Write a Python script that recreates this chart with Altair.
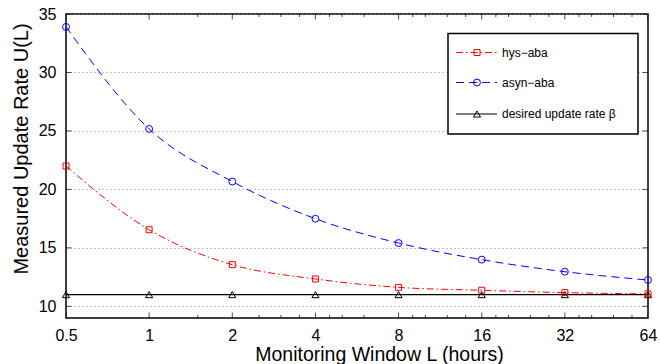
import altair as alt
import pandas as pd

# ---- data ----
L_hours = [0.5, 1, 2, 4, 8, 16, 32, 64]
hys_aba = [22.0, 16.55, 13.56, 12.34, 11.62, 11.37, 11.17, 11.06]
asyn_aba = [33.9, 25.17, 20.67, 17.49, 15.41, 13.99, 12.96, 12.25]
desired_rate = [11.0, 11.0, 11.0, 11.0, 11.0, 11.0, 11.0, 11.0]

x_tick_values = [0.5, 1, 2, 4, 8, 16, 32, 64]
x_minor_ticks = [1.5, 2.5, 3, 3.5, 4.5, 5, 6, 9, 10, 12, 14, 18, 20, 24, 28, 36, 40, 48, 56]
y_tick_values = [10, 15, 20, 25, 30, 35]

legend_labels = ["hys\u2212aba", "asyn\u2212aba", "desired update rate \u03b2"]

FONT = "Liberation Sans, Arial, Helvetica, sans-serif"
W, H = 582, 304

xscale = alt.Scale(type="log", base=2, domain=[0.5, 64], nice=False)
yscale = alt.Scale(domain=[9, 35], nice=False, zero=False)

def series_df(vals):
    return pd.DataFrame({"L": L_hours, "U": vals})

xax = alt.Axis(values=x_tick_values, ticks=False, tickSize=0, domain=False, grid=False,
               labelFlush=False, labelOverlap=False,
               labelFontSize=16, labelPadding=9, labelColor="black", labelFont=FONT,
               title="Monitoring Window L (hours)", titleFontSize=19.5, titleFont=FONT,
               titleFontWeight="normal", titleColor="black", titleX=313, titleY=42,
               titleBaseline="alphabetic", titleAlign="center")
yax = alt.Axis(values=y_tick_values, ticks=False, tickSize=0, domain=False, grid=True,
               labelFlush=False, labelOverlap=False,
               gridColor="#8a8a8a", gridDash=[1, 3], gridWidth=1,
               labelFontSize=16, labelPadding=10, labelColor="black", labelFont=FONT,
               title="Measured Update Rate U(L)", titleFontSize=20, titleFont=FONT,
               titleFontWeight="normal", titleColor="black", titleX=-39, titleY=134.5,
               titleBaseline="alphabetic", titleAlign="center", titleAngle=270)

base_x = alt.X("L:Q", scale=xscale, axis=xax)
base_y = alt.Y("U:Q", scale=yscale, axis=yax)

def line(vals, color, dash, width=1.0):
    return alt.Chart(series_df(vals)).mark_line(
        interpolate="monotone", color=color, strokeDash=dash, strokeWidth=width
    ).encode(x=base_x, y=base_y)

def pts(vals, color, shape, size):
    return alt.Chart(series_df(vals)).mark_point(
        shape=shape, filled=False, color=color, size=size, strokeWidth=1, opacity=1
    ).encode(x=alt.X("L:Q", scale=xscale), y=alt.Y("U:Q", scale=yscale))

RED_DASH = [7, 3, 1.5, 3]
BLUE_DASH = [8, 5]

layers = [
    line(desired_rate, "black", [1, 0], 1.2),
    line(hys_aba, "#ff0000", RED_DASH),
    line(asyn_aba, "#0000ff", BLUE_DASH),
    pts(desired_rate, "black", "triangle-up", 50),
    pts(hys_aba, "#ff0000", "square", 36),
    pts(asyn_aba, "#0000ff", "circle", 48),
]

# inward ticks on all four sides
xmaj = pd.DataFrame({"v": x_tick_values})
xmin = pd.DataFrame({"v": x_minor_ticks})
ymaj = pd.DataFrame({"v": y_tick_values})
for dfv, sz in [(xmaj, 11), (xmin, 6)]:
    for edge in [9, 35]:
        layers.append(alt.Chart(dfv).mark_tick(orient="vertical", size=sz, thickness=1,
                                               color="black", clip=True).encode(
            x=alt.X("v:Q", scale=xscale), y=alt.datum(edge)))
for edge in [0.5, 64]:
    layers.append(alt.Chart(ymaj).mark_tick(orient="horizontal", size=11, thickness=1,
                                            color="black", clip=True).encode(
        y=alt.Y("v:Q", scale=yscale), x=alt.datum(edge)))

# legend box
one = pd.DataFrame({"k": [0]})
layers.append(alt.Chart(one).mark_rect(fill="white", stroke="black", strokeWidth=1.5).encode(
    x=alt.value(382), x2=alt.value(572), y=alt.value(19.5), y2=alt.value(120)))

leg_df = pd.DataFrame({"name": legend_labels})
leg_styles = [("#ff0000", RED_DASH, "square", 36, 38.5),
              ("#0000ff", BLUE_DASH, "circle", 48, 68.5),
              ("black", [1, 0], "triangle-up", 50, 100)]
for lab, (col, dash, shp, sz, yy) in zip(legend_labels, leg_styles):
    sub = alt.Chart(leg_df).transform_filter(alt.datum.name == lab)
    layers.append(sub.mark_rule(color=col, strokeDash=dash, strokeWidth=1).encode(
        x=alt.value(390), x2=alt.value(431), y=alt.value(yy)))
    layers.append(sub.mark_point(shape=shp, filled=False, color=col, size=sz, strokeWidth=1,
                                 opacity=1).encode(x=alt.value(411), y=alt.value(yy)))
    layers.append(sub.mark_text(align="left", baseline="middle", fontSize=12, font=FONT,
                                color="black").encode(
        x=alt.value(436), y=alt.value(yy), text="name:N"))

chart = alt.layer(*layers).properties(
    width=W, height=H,
    autosize=alt.AutoSizeParams(type="none"),
    padding={"left": 66, "top": 14, "right": 12, "bottom": 46},
    background="white",
).configure_view(stroke="black", strokeWidth=1.5)

chart.save("out.html", embed_options={"renderer": "svg", "actions": False})
